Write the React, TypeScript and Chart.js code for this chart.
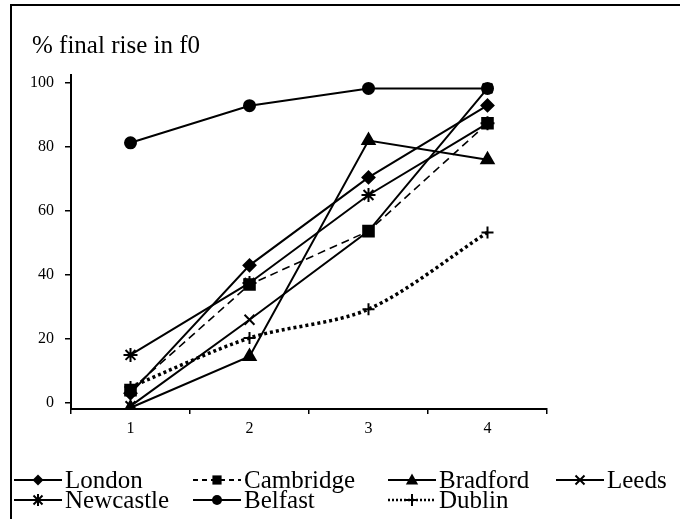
import React, { useEffect, useRef } from "react";
import { Chart, registerables } from "chart.js";

Chart.register(...registerables);

const categories = ["1", "2", "3", "4"];
const seriesNames = ["London", "Cambridge", "Bradford", "Leeds", "Newcastle", "Belfast", "Dublin"];
const london = [3, 43, 70.5, 93];
const cambridge = [4, 37, 53.7, 87.4];
const bradford = [-1.5, 14.5, 82, 76];
const leeds = [-1, 26, 53.7, 98.3];
const newcastle = [15, 37.5, 65, 87.4];
const belfast = [81.3, 92.9, 98.3, 98.3];
const dublin = [5, 20.3, 29.3, 53.3];
const yTicks = [0, 20, 40, 60, 80, 100];
const titleText = "% final rise in f0";

const FONT = "'Liberation Serif', 'Times New Roman', serif";

type Style = { dash: number[]; width: number; marker: string; r: number; lr: number };
const styles: Style[] = [
  { dash: [], width: 2, marker: "rectRot", r: 6, lr: 5.5 },
  { dash: [8, 5], width: 1.6, marker: "rect", r: 7.5, lr: 6.5 },
  { dash: [], width: 2, marker: "triangle", r: 7, lr: 6.5 },
  { dash: [], width: 2, marker: "crossRot", r: 7, lr: 6 },
  { dash: [], width: 2, marker: "star", r: 7, lr: 6 },
  { dash: [], width: 2, marker: "circle", r: 5.5, lr: 5 },
  { dash: [3, 3], width: 3.5, marker: "cross", r: 6, lr: 6 },
];

function drawMarker(ctx: CanvasRenderingContext2D, kind: string, x: number, y: number, r: number) {
  ctx.save();
  ctx.fillStyle = "#000";
  ctx.strokeStyle = "#000";
  ctx.setLineDash([]);
  ctx.lineWidth = 2;
  ctx.beginPath();
  if (kind === "rectRot") {
    ctx.moveTo(x, y - r);
    ctx.lineTo(x + r, y);
    ctx.lineTo(x, y + r);
    ctx.lineTo(x - r, y);
    ctx.closePath();
    ctx.fill();
  } else if (kind === "rect") {
    const s = r * Math.SQRT1_2;
    ctx.rect(x - s, y - s, 2 * s, 2 * s);
    ctx.fill();
  } else if (kind === "triangle") {
    ctx.moveTo(x, y - r);
    ctx.lineTo(x + r * 0.95, y + r * 0.7);
    ctx.lineTo(x - r * 0.95, y + r * 0.7);
    ctx.closePath();
    ctx.fill();
  } else if (kind === "circle") {
    ctx.arc(x, y, r, 0, Math.PI * 2);
    ctx.fill();
  } else if (kind === "crossRot") {
    const d = r * 0.75;
    ctx.moveTo(x - d, y - d);
    ctx.lineTo(x + d, y + d);
    ctx.moveTo(x + d, y - d);
    ctx.lineTo(x - d, y + d);
    ctx.stroke();
  } else if (kind === "cross") {
    ctx.moveTo(x - r, y);
    ctx.lineTo(x + r, y);
    ctx.moveTo(x, y - r);
    ctx.lineTo(x, y + r);
    ctx.stroke();
  } else if (kind === "star") {
    const d = r * 0.75;
    ctx.moveTo(x - d, y - d);
    ctx.lineTo(x + d, y + d);
    ctx.moveTo(x + d, y - d);
    ctx.lineTo(x - d, y + d);
    ctx.moveTo(x, y - r);
    ctx.lineTo(x, y + r);
    ctx.stroke();
  }
  ctx.restore();
}

const legendCols = [14, 193, 388, 556];
const legendRows = [480, 500];

const decorPlugin = {
  id: "decor",
  beforeDraw(chart: any) {
    const ctx: CanvasRenderingContext2D = chart.ctx;
    ctx.save();
    ctx.fillStyle = "#fff";
    ctx.fillRect(0, 0, chart.width, chart.height);
    ctx.strokeStyle = "#000";
    ctx.lineWidth = 2;
    ctx.beginPath();
    ctx.moveTo(11, 520);
    ctx.lineTo(11, 5);
    ctx.lineTo(681, 5);
    ctx.stroke();
    ctx.fillStyle = "#000";
    ctx.font = `25px ${FONT}`;
    ctx.textBaseline = "alphabetic";
    ctx.textAlign = "left";
    ctx.fillText(titleText, 32, 53);
    ctx.restore();
  },
  afterDraw(chart: any) {
    const ctx: CanvasRenderingContext2D = chart.ctx;
    const ds = chart.data.datasets;
    ctx.save();
    ds.forEach((d: any, i: number) => {
      const st = styles[i];
      const col = i < 4 ? i : i - 4;
      const row = i < 4 ? 0 : 1;
      const x0 = legendCols[col];
      const y = legendRows[row];
      const lineLen = 48;
      ctx.save();
      ctx.strokeStyle = "#000";
      ctx.lineWidth = st.width === 3.5 ? 2.5 : 2;
      ctx.setLineDash(st.dash.length ? (st.width === 3.5 ? [2, 2] : [5, 4]) : []);
      ctx.beginPath();
      ctx.moveTo(x0, y);
      ctx.lineTo(x0 + lineLen, y);
      ctx.stroke();
      ctx.restore();
      drawMarker(ctx, st.marker, x0 + lineLen / 2, y, st.lr);
      ctx.fillStyle = "#000";
      ctx.font = `25px ${FONT}`;
      ctx.textBaseline = "middle";
      ctx.textAlign = "left";
      ctx.fillText(d.label, x0 + lineLen + 3, y + 1);
    });
    ctx.restore();
  },
};

const allData = [london, cambridge, bradford, leeds, newcastle, belfast, dublin];

export default function App() {
  const ref = useRef<HTMLCanvasElement | null>(null);
  useEffect(() => {
    if (!ref.current) return;
    Chart.defaults.font.family = FONT;
    const chart = new Chart(ref.current, {
      type: "line",
      data: {
        labels: categories,
        datasets: allData.map((vals, i) => ({
          label: seriesNames[i],
          data: vals,
          borderColor: "#000",
          backgroundColor: "#000",
          borderWidth: styles[i].width,
          borderDash: styles[i].dash,
          borderCapStyle: "butt" as const,
          pointStyle: styles[i].marker as any,
          pointRadius: styles[i].r,
          pointBorderWidth: 2,
          pointBorderColor: "#000",
          pointBackgroundColor: "#000",
          tension: i === 6 ? 0.3 : 0,
          fill: false,
        })),
      },
      options: {
        animation: false,
        responsive: false,
        maintainAspectRatio: false,
        layout: { padding: { left: 0, right: 133, top: 75, bottom: 80 } },
        plugins: {
          legend: { display: false },
          title: { display: false },
          tooltip: { enabled: false },
        },
        scales: {
          x: {
            type: "category",
            offset: true,
            grid: {
              offset: true,
              drawOnChartArea: false,
              drawTicks: true,
              tickLength: 5,
              color: "#000",
              lineWidth: 1.5,
            },
            border: { display: true, color: "#000", width: 2 },
            ticks: { color: "#000", font: { size: 16, family: FONT }, padding: 5 },
            afterFit(scale: any) {
              scale.height = 30;
            },
          },
          y: {
            min: -1.9,
            max: 102.5,
            afterBuildTicks(scale: any) {
              scale.ticks = yTicks.map((v) => ({ value: v }));
            },
            grid: {
              drawOnChartArea: false,
              drawTicks: true,
              tickLength: 6,
              color: "#000",
              lineWidth: 1.5,
            },
            border: { display: true, color: "#000", width: 2 },
            ticks: { color: "#000", font: { size: 16, family: FONT }, padding: 11 },
            afterFit(scale: any) {
              scale.width = 71;
            },
          },
        },
      },
      plugins: [decorPlugin],
    });
    return () => chart.destroy();
  }, []);
  return (
    <div style={{ position: "fixed", left: 0, top: 0, width: 680, height: 519, background: "#fff" }}>
      <canvas ref={ref} width={680} height={519} style={{ display: "block", width: 680, height: 519 }} />
    </div>
  );
}
